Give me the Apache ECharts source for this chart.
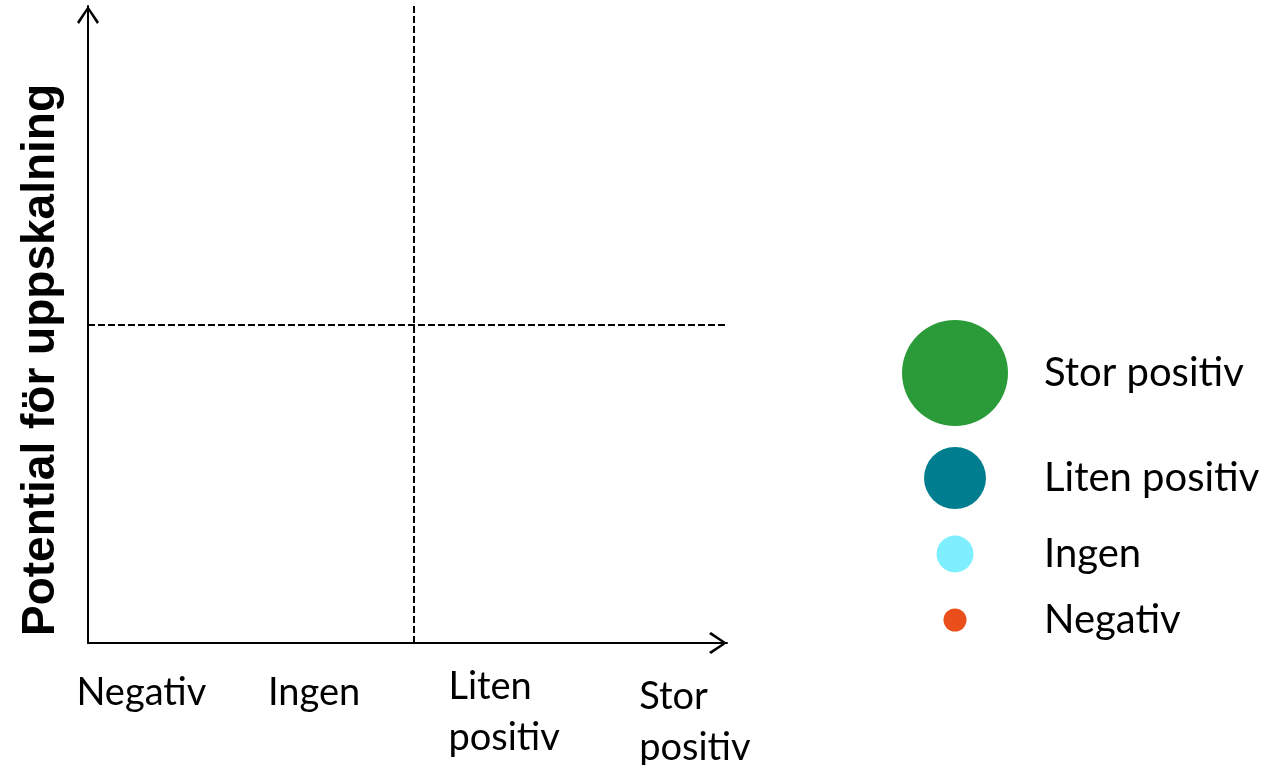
<!DOCTYPE html>
<html><head><meta charset="utf-8">
<script src="https://cdn.jsdelivr.net/npm/echarts@6/dist/echarts.min.js"></script>
<style>html,body{margin:0;padding:0;background:#fff}#c{width:1273px;height:765px}</style>
</head><body><div id="c"></div>
<script>
// ---- data ----
const xCategories = ['Negativ', 'Ingen', 'Liten\npositiv', 'Stor\npositiv'];
const legendNames = ['Stor positiv', 'Liten positiv', 'Ingen', 'Negativ'];
const yTitle = 'Potential för uppskalning';
const xMax = 4, yMax = 2;
const xDivider = 2.04, yDivider = 1;

// ---- styles / layout ----
const legendColors = ['#2B9B3A', '#007E8F', '#7FEEFF', '#E94E1B'];
const legendDiam = [106, 62, 37, 23];
const legendCenterY = [373, 478, 554, 620];
const legendCenterX = 955, legendTextX = 1044;
const labelFont = 'Lato';
const labelSize = 38;
const legendSize = 40;
const xLabelStyles = [
  { align: 'center', padding: [6, 53, 0, 0] },
  { align: 'center', padding: [6, 27, 0, 0] },
  { align: 'center', padding: [0, 0, 0, 38] },
  { align: 'center', padding: [10, 0, 0, 100] }
];
const chevron = 'path://M11,0 L22,16 L20,18 L11,4 L2,18 L0,16 Z';

const chart = echarts.init(document.getElementById('c'), null, { renderer: 'canvas' });

const boxW = 2 * (legendTextX - 5 - legendCenterX);
const legends = legendNames.map((n, i) => {
  const h = Math.max(legendDiam[i], legendSize);
  return {
    data: [n], icon: 'circle', selectedMode: false, padding: 0,
    orient: 'vertical',
    left: legendCenterX - legendDiam[i] / 2,
    top: legendCenterY[i] - h / 2,
    itemWidth: boxW, itemHeight: legendDiam[i],
    itemStyle: { opacity: 1 },
    textStyle: { fontFamily: labelFont, fontSize: legendSize, color: '#000' }
  };
});

const option = {
  backgroundColor: '#fff',
  animation: false,
  legend: legends,
  grid: { left: 88, right: 546, top: 6, bottom: 122, containLabel: false, outerBoundsMode: 'none' },
  xAxis: [
    {
      type: 'value', min: 0, max: xMax,
      axisLine: { show: true, lineStyle: { color: '#000', width: 2 },
        symbol: ['none', chevron], symbolSize: [22, 18], symbolOffset: [0, -9] },
      axisTick: { show: false }, axisLabel: { show: false }, splitLine: { show: false }
    },
    {
      type: 'category', position: 'bottom', boundaryGap: true,
      data: xCategories.map((c, i) => ({ value: c, textStyle: xLabelStyles[i] })),
      axisLine: { show: false }, axisTick: { show: false }, splitLine: { show: false },
      axisLabel: {
        interval: 0, margin: 18, color: '#000',
        fontFamily: labelFont, fontSize: labelSize, lineHeight: 51,
        formatter: v => v.indexOf('\n') >= 0 ? v.split('\n').map(s => '{w|' + s + '}').join('\n') : v,
        rich: { w: { width: 116, align: 'left', lineHeight: 51, fontFamily: labelFont, fontSize: labelSize, color: '#000' } }
      }
    }
  ],
  yAxis: {
    type: 'value', min: 0, max: yMax,
    name: yTitle, nameLocation: 'middle', nameRotate: 90, nameGap: 24,
    nameTextStyle: { fontFamily: 'Liberation Sans', fontWeight: 'bold', fontSize: 46, color: '#000', padding: [0, 71, 0, 0] },
    axisLine: { show: true, lineStyle: { color: '#000', width: 2 },
      symbol: ['none', chevron], symbolSize: [22, 18], symbolOffset: [0, -9] },
    axisTick: { show: false }, axisLabel: { show: false }, splitLine: { show: false }
  },
  series: [
    {
      type: 'line', xAxisIndex: 0, yAxisIndex: 0, data: [], silent: true,
      markLine: {
        silent: true, symbol: ['none', 'none'], label: { show: false },
        lineStyle: { color: '#000', type: [7, 3], width: 2, opacity: 1 },
        data: [{ xAxis: xDivider }, { yAxis: yDivider }]
      }
    }
  ].concat(legendNames.map((n, i) => ({
    type: 'scatter', name: n, data: [], itemStyle: { color: legendColors[i], opacity: 1 }
  })))
};
chart.setOption(option);
</script>
</body></html>
